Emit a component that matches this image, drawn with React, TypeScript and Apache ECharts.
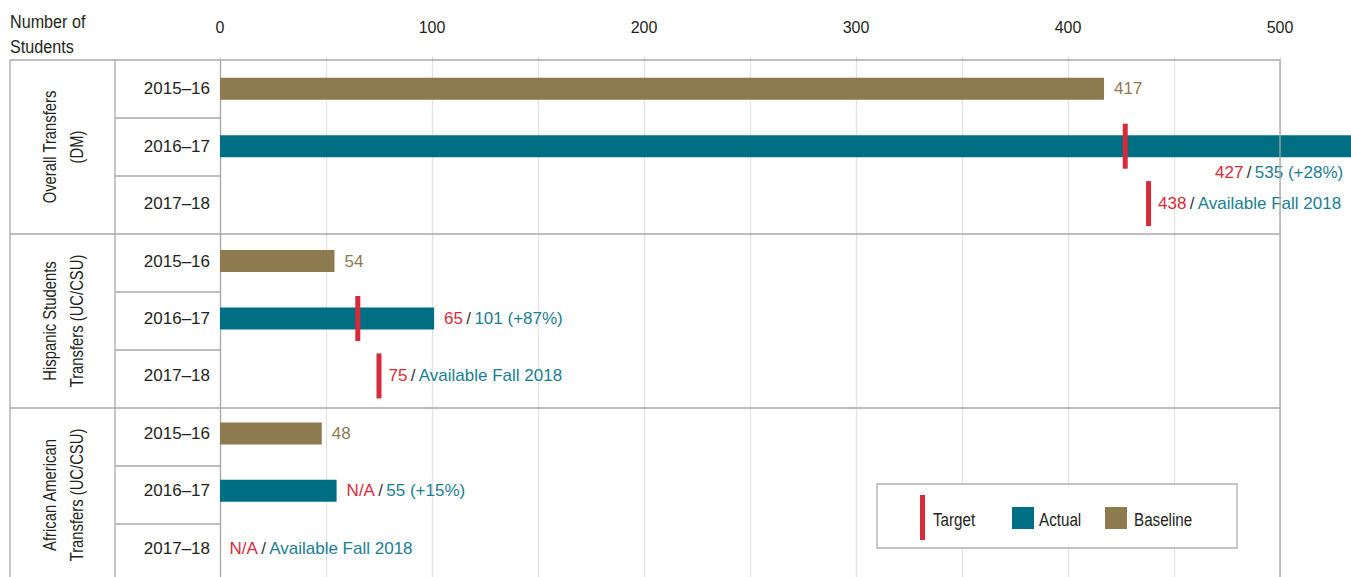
import React, { useEffect, useRef } from "react";
import * as echarts from "echarts";

const groupNames = ["Overall Transfers\n(DM)", "Hispanic Students\nTransfers (UC/CSU)", "African American\nTransfers (UC/CSU)"];
const years = ["2015–16", "2016–17", "2017–18"];
const baselineValues = [417, 54, 48];
const actualValues = [535, 101, 55];
const actualChange = [28, 87, 15];
const target1617 = [427, 65, null];
const target1718 = [438, 75, null];
const legendNames = ["Target", "Actual", "Baseline"];

const FONT = '"Liberation Sans", Arial, sans-serif';
const RED = "#d52b3a";
const TEAL = "#006f84";
const TEAL_TXT = "#1a7d92";
const GOLD = "#8d7a4e";
const DARK = "#231f20";
const LINE = "#a8a8a8";

const L = 10, C1 = 115, GL = 220, GR = 1280, GT = 60, RH = 58, BOTTOM = 577;

export default function App() {
  const ref = useRef<HTMLDivElement>(null);
  useEffect(() => {
    const chart = echarts.init(ref.current!, null, { renderer: "svg" });
    const nRows = groupNames.length * years.length;
    const rowLabels: string[] = [];
    groupNames.forEach(() => years.forEach((y) => rowLabels.push(y)));

    const baseData: any[] = new Array(nRows).fill(null);
    const actData: any[] = new Array(nRows).fill(null);
    const targetData: any[] = [];
    const noteData: any[] = [];
    const rich = {
      r: { color: RED, fontSize: 17, fontFamily: FONT, opacity: 1 },
      s: { color: "#333", fontSize: 17, fontFamily: FONT, opacity: 1 },
      t: { color: TEAL_TXT, fontSize: 17, fontFamily: FONT, opacity: 1 },
    };
    groupNames.forEach((_, g) => {
      baseData[g * 3] = baselineValues[g];
      const t = target1617[g];
      const lbl = `{r|${t ?? "N/A"}} {s|/} {t|${actualValues[g]} (+${actualChange[g]}%)}`;
      const item: any = { value: actualValues[g], label: { show: true, formatter: lbl, rich } };
      if (actualValues[g] > 500) {
        item.label.position = ["100%", "100%"];
        item.label.align = "right";
        item.label.verticalAlign = "top";
        item.label.offset = [-11, 7];
      } else {
        item.label.position = "right";
        item.label.distance = 10;
      }
      actData[g * 3 + 1] = item;
      if (t != null) targetData.push([t, g * 3 + 1]);
      const t2 = target1718[g];
      if (t2 != null) targetData.push([t2, g * 3 + 2]);
      noteData.push({
        value: [t2 ?? 0, g * 3 + 2],
        label: { formatter: `{r|${t2 ?? "N/A"}} {s|/} {t|Available Fall 2018}` },
      });
    });

    const graphics: any[] = [];
    const ln = (x1: number, y1: number, x2: number, y2: number) =>
      graphics.push({ type: "line", shape: { x1, y1, x2, y2 }, style: { stroke: LINE, lineWidth: 1.3 }, z: 10 });
    ln(L, GT, GR, GT);
    ln(L, GT, L, BOTTOM);
    ln(C1, GT, C1, BOTTOM);
    ln(GR, GT, GR, BOTTOM);
    for (let k = 1; k < nRows; k++) {
      if (k % 3 === 0) ln(L, GT + k * RH, GR, GT + k * RH);
      else ln(C1, GT + k * RH, GL, GT + k * RH);
    }
    groupNames.forEach((name, g) => {
      graphics.push({
        type: "text",
        x: (L + C1) / 2 + 1,
        y: GT + (g * 3 + 1.5) * RH,
        rotation: Math.PI / 2,
        scaleX: 0.78,
        style: { text: name, fontSize: 19, fontFamily: FONT, fill: DARK, align: "center", verticalAlign: "middle", lineHeight: 27 },
      });
    });
    graphics.push({
      type: "text",
      x: 10,
      y: 9,
      scaleX: 0.85,
      style: { text: "Number of\nStudents", fontSize: 19, fontFamily: FONT, fill: DARK, lineHeight: 25, align: "left", verticalAlign: "top" },
    });
    // legend box
    const legendY = 519;
    graphics.push({ type: "rect", shape: { x: 877, y: 484, width: 360, height: 64 }, style: { fill: "#fff", stroke: "#b0b0b0", lineWidth: 1.3 }, z: 20 });
    graphics.push({ type: "rect", shape: { x: 920, y: 495, width: 5, height: 45 }, style: { fill: RED }, z: 21 });
    graphics.push({ type: "rect", shape: { x: 1012, y: 507, width: 22, height: 22 }, style: { fill: TEAL }, z: 21 });
    graphics.push({ type: "rect", shape: { x: 1105, y: 507, width: 22, height: 22 }, style: { fill: GOLD }, z: 21 });
    [[933, 0], [1039, 1], [1134, 2]].forEach(([x, i]) =>
      graphics.push({
        type: "text",
        x,
        y: legendY,
        z: 21,
        scaleX: 0.8,
        style: { text: legendNames[i], fontSize: 19, fontFamily: FONT, fill: DARK, align: "left", verticalAlign: "middle" },
      })
    );

    chart.setOption({
      animation: false,
      textStyle: { fontFamily: FONT },
      grid: { left: GL, top: GT, width: GR - GL, height: RH * nRows, containLabel: false },
      xAxis: {
        type: "value",
        position: "top",
        min: 0,
        max: 500,
        interval: 50,
        axisLine: { show: false },
        axisTick: { show: true, length: 3, lineStyle: { color: "#d6d6d6" } },
        axisLabel: {
          formatter: (v: number) => (v % 100 === 0 ? String(v) : ""),
          fontSize: 16,
          color: DARK,
          fontFamily: FONT,
          margin: 25,
        },
        splitLine: { show: true, lineStyle: { color: "#e2e2e2", width: 1.2 } },
      },
      yAxis: {
        type: "category",
        inverse: true,
        data: rowLabels,
        axisLine: { show: true, lineStyle: { color: LINE, width: 1.3 } },
        axisTick: { show: false },
        axisLabel: { fontSize: 17, color: DARK, fontFamily: FONT, margin: 10 },
        splitLine: { show: false },
      },
      series: [
        {
          name: "Baseline",
          type: "bar",
          data: baseData,
          barWidth: 22,
          barGap: "-100%",
          itemStyle: { color: GOLD },
          label: { show: true, position: "right", distance: 10, color: GOLD, fontSize: 17, fontFamily: FONT },
        },
        {
          name: "Actual",
          type: "bar",
          data: actData,
          barWidth: 22,
          barGap: "-100%",
          clip: false,
          itemStyle: { color: TEAL },
        },
        {
          name: "Target",
          type: "scatter",
          data: targetData,
          symbol: "rect",
          symbolSize: [5, 45],
          itemStyle: { color: RED, opacity: 1 },
          clip: false,
          z: 5,
        },
        {
          name: "Notes",
          type: "scatter",
          data: noteData,
          symbolSize: 1,
          itemStyle: { color: "rgba(255,255,255,0)", opacity: 1 },
          label: { show: true, position: "right", distance: 9, rich, opacity: 1 },
          z: 6,
        },
      ],
      graphic: graphics,
    });
    return () => chart.dispose();
  }, []);
  return <div ref={ref} style={{ position: "absolute", left: 0, top: 0, width: 1351, height: 577 }} />;
}
